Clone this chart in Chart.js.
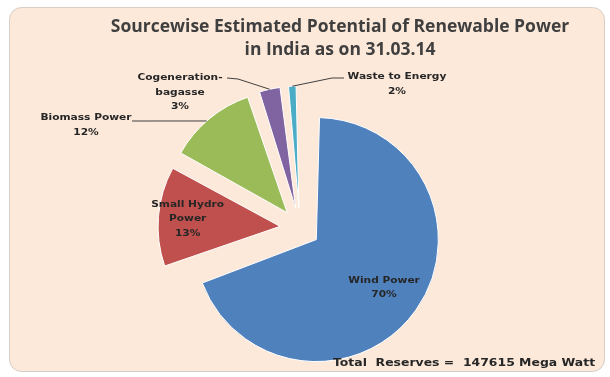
<!DOCTYPE html>
<html lang="en">
<head>
  <meta charset="utf-8">
  <title>Sourcewise Estimated Potential of Renewable Power</title>
  <script src="https://cdn.jsdelivr.net/npm/chart.js@4.4.1/dist/chart.umd.min.js"></script>
  <style>
    body { margin: 0; background: #ffffff; }
  </style>
</head>
<body>
  <canvas id="chart" width="610" height="377"></canvas>

<script>
  var sources = ['Wind Power', 'Small Hydro Power', 'Biomass Power', 'Cogeneration-bagasse', 'Waste to Energy'];
  var potentialMW = [102772, 19749, 17538, 5000, 2556];
  var labelLines = [['Wind Power'], ['Small Hydro', 'Power'], ['Biomass Power'], ['Cogeneration-', 'bagasse'], ['Waste to Energy']];
  var titleLines = ['Sourcewise Estimated Potential of Renewable Power', 'in India as on 31.03.14'];
  var totalText = 'Total  Reserves =  147615 Mega Watt';

  var colors = ['#4f81bd', '#c0504d', '#9bbb59', '#8064a2', '#4bacc6'];
  var total = potentialMW.reduce(function (a, b) { return a + b; }, 0);

  function pct(i) {
    return Math.round(potentialMW[i] / total * 100) + '%';
  }

  var labelFont = 'bold 9.5px "DejaVu Sans"';
  var textColor = '#262626';
  var stretch = 1.12; // the original is a bit wide

  // labels drawn inside the slice, as a fraction of the radius
  var inside = { 0: 0.68, 1: 0.76 };
  // where the outside labels sit and where their leader line leaves the text
  var outside = {
    2: { x: 86, y: 118, from: [[132, 121]], angle: 318.7 },
    3: { x: 180, y: 78, from: [[227, 78], [238, 79]], angle: null },
    4: { x: 397, y: 77, from: [[344, 78], [332, 78]], angle: null }
  };

  function arcInfo(arc) {
    var mid = (arc.startAngle + arc.endAngle) / 2;
    var c = arc.endAngle - arc.startAngle;
    var disp = (arc.options.offset || 0) / 4;
    return {
      mid: mid,
      cx: arc.x + Math.cos(mid) * disp,
      cy: arc.y + Math.sin(mid) * disp,
      r: arc.outerRadius + disp * (1 - Math.sin(Math.min(Math.PI, c)))
    };
  }

  function text(ctx, t, x, y, sx) {
    ctx.save();
    ctx.translate(x, y);
    ctx.scale(sx, 1);
    ctx.fillText(t, 0, 0);
    ctx.restore();
  }

  var decor = {
    id: 'decor',
    beforeDraw: function (chart) {
      var ctx = chart.ctx;
      ctx.save();
      ctx.beginPath();
      ctx.roundRect(9.5, 7.5, 595, 364, 12);
      ctx.fillStyle = '#fde9da';
      ctx.fill();
      ctx.strokeStyle = '#d6cdc6';
      ctx.lineWidth = 1;
      ctx.stroke();
      ctx.restore();
    },
    // keep every slice the same radius, chart.js grows exploded ones
    afterDatasetsUpdate: function (chart) {
      chart.getDatasetMeta(0).data.forEach(function (arc) {
        var c = arc.endAngle - arc.startAngle;
        var off = (arc.options.offset || 0) / 4;
        arc.outerRadius -= off * (1 - Math.sin(Math.min(Math.PI, c)));
      });
    },
    afterDraw: function (chart) {
      var ctx = chart.ctx;
      var arcs = chart.getDatasetMeta(0).data;
      ctx.save();
      ctx.textAlign = 'center';
      ctx.textBaseline = 'middle';

      // title
      ctx.fillStyle = '#3f3f3f';
      ctx.font = 'bold 17.5px "Open Sans"';
      titleLines.forEach(function (t, k) {
        ctx.fillText(t, 340, 27 + k * 23.5);
      });

      ctx.font = labelFont;
      ctx.fillStyle = textColor;

      // labels inside wind and small hydro
      Object.keys(inside).forEach(function (key) {
        var i = +key;
        var a = arcInfo(arcs[i]);
        var x = a.cx + Math.cos(a.mid) * a.r * inside[i];
        var y = a.cy + Math.sin(a.mid) * a.r * inside[i];
        var lines = labelLines[i].concat([pct(i)]);
        var y0 = y - (lines.length - 1) * 7.25;
        lines.forEach(function (t, k) {
          text(ctx, t, x, y0 + k * 14.5, stretch);
        });
      });

      // outside labels + leader lines
      Object.keys(outside).forEach(function (key) {
        var i = +key;
        var o = outside[i];
        var lines = labelLines[i].concat([pct(i)]);
        lines.forEach(function (t, k) {
          text(ctx, t, o.x, o.y + k * 14.5, stretch);
        });
        var a = arcInfo(arcs[i]);
        var ang = o.angle === null ? a.mid : (o.angle - 90) * Math.PI / 180;
        var ax = a.cx + Math.cos(ang) * a.r;
        var ay = a.cy + Math.sin(ang) * a.r;
        ctx.beginPath();
        ctx.moveTo(o.from[0][0], o.from[0][1]);
        for (var k = 1; k < o.from.length; k++) ctx.lineTo(o.from[k][0], o.from[k][1]);
        ctx.lineTo(ax, ay);
        ctx.strokeStyle = '#404040';
        ctx.lineWidth = 1;
        ctx.stroke();
      });

      // total
      ctx.font = 'bold 11px "DejaVu Sans"';
      ctx.fillStyle = textColor;
      ctx.textAlign = 'left';
      text(ctx, totalText, 333, 363, 1.13);
      ctx.restore();
    }
  };

  var config = {
    type: 'pie',
    data: {
      labels: sources,
      datasets: [{
        data: potentialMW,
        backgroundColor: colors,
        borderColor: '#ffffff',
        borderWidth: 1,
        offset: 80,
        hoverOffset: 80
      }]
    },
    options: {
      responsive: false,
      animation: false,
      events: [],
      radius: 122,
      layout: {
        padding: { top: 100, bottom: 21, left: 10, right: 20 }
      },
      plugins: {
        legend: { display: false },
        title: { display: false },
        tooltip: { enabled: false }
      }
    },
    plugins: [decor]
  };

  window.myPie = new Chart(document.getElementById('chart').getContext('2d'), config);
</script>
</body>
</html>
